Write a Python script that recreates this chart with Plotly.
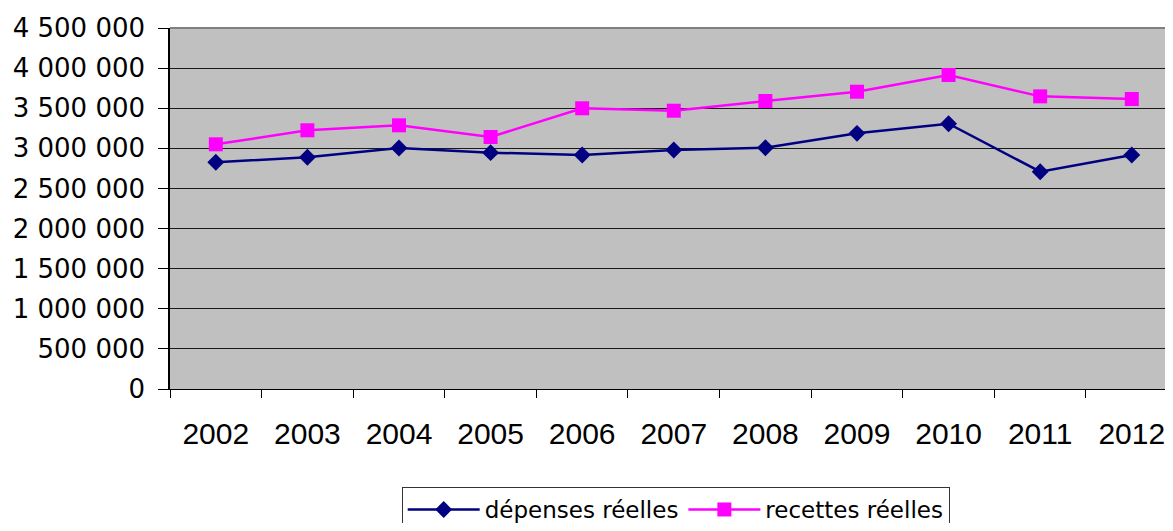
import plotly.graph_objects as go

years = ["2002", "2003", "2004", "2005", "2006", "2007", "2008", "2009", "2010", "2011", "2012"]
depenses = [2826000, 2888000, 3004000, 2946000, 2917000, 2979000, 3008000, 3187000, 3307000, 2709000, 2917000]
recettes = [3050000, 3225000, 3287000, 3141000, 3499000, 3469000, 3590000, 3706000, 3914000, 3648000, 3615000]
y_ticks = [0, 500000, 1000000, 1500000, 2000000, 2500000, 3000000, 3500000, 4000000, 4500000]

fig = go.Figure()
fig.add_trace(go.Scatter(
    x=years, y=depenses, name="dépenses réelles", mode="lines+markers",
    line=dict(color="#000080", width=2.5),
    marker=dict(symbol="diamond", size=13, color="#000080"),
))
fig.add_trace(go.Scatter(
    x=years, y=recettes, name="recettes réelles", mode="lines+markers",
    line=dict(color="#FF00FF", width=2.5),
    marker=dict(symbol="square", size=14, color="#FF00FF"),
))

fig.update_layout(
    width=1165, height=515,
    margin=dict(l=162, r=0, t=20, b=134, autoexpand=False),
    paper_bgcolor="white", plot_bgcolor="#C0C0C0",
    font=dict(family="Liberation Sans, Arial, sans-serif", size=25, color="black"),
    separators=", ",
    showlegend=True,
    legend=dict(
        orientation="h", x=0.231, xanchor="left", y=-0.2715, yanchor="top",
        bordercolor="#333333", borderwidth=1, bgcolor="white",
        font=dict(family="DejaVu Sans, sans-serif", size=23), itemwidth=72,
    ),
    xaxis=dict(
        type="category", showgrid=False, showline=True, linecolor="black", linewidth=1,
        ticks="outside", tickson="boundaries", ticklen=8, tickcolor="black",
        ticklabelstandoff=18, range=[-0.5, 10.45],
        tickfont=dict(family="Liberation Sans, Arial, sans-serif", size=30),
    ),
    yaxis=dict(
        range=[0, 4500000], tickvals=y_ticks, tickformat=",d",
        showgrid=True, gridcolor="#1a1a1a", gridwidth=1,
        showline=True, linecolor="black", linewidth=1.5,
        ticks="outside", ticklen=10, tickcolor="black", ticklabelstandoff=8,
        zeroline=False, tickfont=dict(family="DejaVu Sans, sans-serif", size=26),
    ),
    shapes=[dict(type="line", xref="paper", yref="paper", x0=0, x1=1, y0=1, y1=1,
                 line=dict(color="#808080", width=2))],
)

fig.write_html("out.html")
